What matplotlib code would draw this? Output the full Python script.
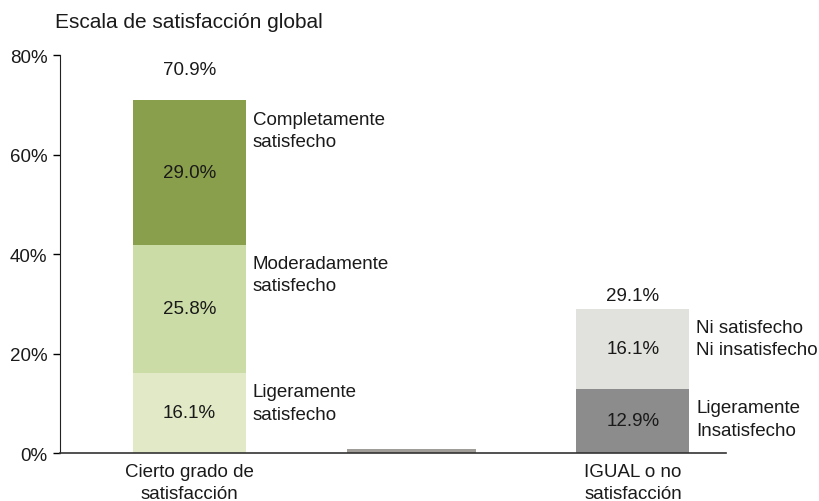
import matplotlib.pyplot as plt

plt.rcParams['font.family'] = ['Liberation Sans', 'DejaVu Sans']

categories = ['Cierto grado de\nsatisfacción', '', 'IGUAL o no\nsatisfacción']

# left bar segments (bottom -> top)
sat_vals = [16.1, 25.8, 29.0]
sat_names = ['Ligeramente\nsatisfecho', 'Moderadamente\nsatisfecho', 'Completamente\nsatisfecho']
sat_colors = ['#e1e9c6', '#cbdca6', '#8a9f4c']
sat_total = '70.9%'

# middle small bar
mid_val = 0.8

# right bar segments (bottom -> top)
ins_vals = [12.9, 16.1]
ins_names = ['Ligeramente\nInsatisfecho', 'Ni satisfecho\nNi insatisfecho']
ins_colors = ['#8c8c8c', '#e1e1dd']
ins_total = '29.1%'

yticks = [0, 20, 40, 60, 80]
FS = 13.5

fig = plt.figure(figsize=(8.2, 5.02), dpi=100)
ax = fig.add_axes([0.0732, 0.0956, 0.8122, 0.7924])

def stack(ax, x, vals, names, colors, total, total_gap, width):
    bottom = 0
    for v, n, c in zip(vals, names, colors):
        ax.bar(x, v, width=width, bottom=bottom, color=c, edgecolor='none')
        ax.text(x, bottom + v / 2, '%.1f%%' % v, ha='center', va='center', fontsize=FS, color='#1a1a1a')
        ax.text(x + width / 2 + 0.03, bottom + v - 2.1, n, ha='left', va='top', fontsize=FS,
                color='#1a1a1a', linespacing=1.4)
        bottom += v
    ax.text(x, bottom + total_gap, total, ha='center', va='center', fontsize=FS, color='#1a1a1a')

stack(ax, 0, sat_vals, sat_names, sat_colors, sat_total, 6.3, 0.51)
ax.bar(1, mid_val, width=0.58, color='#a09d98', edgecolor='none')
stack(ax, 2, ins_vals, ins_names, ins_colors, ins_total, 2.7, 0.51)

ax.set_xlim(-0.584, 2.42)
ax.set_ylim(0, 80)
ax.set_yticks(yticks)
ax.set_yticklabels(['%d%%' % t for t in yticks], fontsize=FS, color='#1a1a1a')
ax.set_xticks([0, 1, 2])
ax.set_xticklabels(categories, fontsize=FS, color='#1a1a1a', linespacing=1.4)
ax.tick_params(axis='x', length=0, pad=7)
ax.tick_params(axis='y', length=5, width=1, direction='out', pad=4)
for s in ['top', 'right']:
    ax.spines[s].set_visible(False)
ax.spines['left'].set_color('#222222')
ax.spines['bottom'].set_color('#333333')
ax.spines['bottom'].set_linewidth(1.2)

fig.text(55 / 820, 1 - 22 / 502, 'Escala de satisfacción global', fontsize=15, va='center', ha='left',
         color='#1a1a1a')

fig.savefig('out.png', dpi=100)
